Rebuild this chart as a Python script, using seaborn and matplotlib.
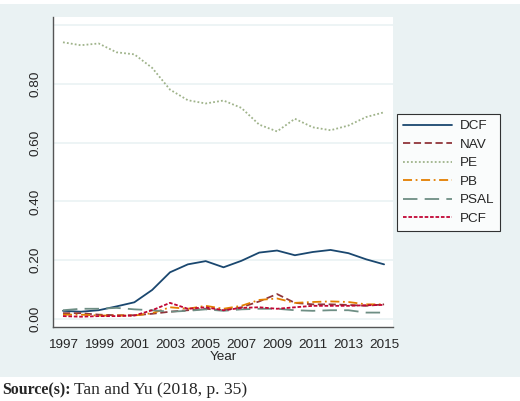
import numpy as np
import pandas as pd
import matplotlib
matplotlib.use('Agg')
import matplotlib.pyplot as plt
from matplotlib.patches import Rectangle
import seaborn as sns

years = list(range(1997, 2016))
dcf = [0.028, 0.025, 0.030, 0.043, 0.057, 0.099, 0.159, 0.186, 0.197, 0.176, 0.198, 0.226,
       0.233, 0.217, 0.228, 0.235, 0.224, 0.203, 0.186]
nav = [0.020, 0.020, 0.015, 0.013, 0.013, 0.018, 0.025, 0.030, 0.035, 0.030, 0.040, 0.060,
       0.085, 0.055, 0.050, 0.050, 0.048, 0.045, 0.050]
pe = [0.941, 0.931, 0.937, 0.907, 0.900, 0.854, 0.780, 0.744, 0.733, 0.743, 0.718, 0.661,
      0.638, 0.681, 0.652, 0.642, 0.658, 0.687, 0.703]
pb = [0.015, 0.015, 0.012, 0.012, 0.012, 0.020, 0.040, 0.035, 0.045, 0.035, 0.045, 0.065,
      0.070, 0.055, 0.058, 0.060, 0.058, 0.050, 0.050]
psal = [0.030, 0.035, 0.035, 0.038, 0.033, 0.030, 0.025, 0.028, 0.033, 0.028, 0.033, 0.035,
        0.035, 0.030, 0.028, 0.030, 0.030, 0.022, 0.022]
pcf = [0.010, 0.008, 0.010, 0.010, 0.012, 0.030, 0.055, 0.035, 0.040, 0.030, 0.038, 0.040,
       0.035, 0.040, 0.045, 0.045, 0.045, 0.047, 0.048]

methods = ['DCF', 'NAV', 'PE', 'PB', 'PSAL', 'PCF']
series = [dcf, nav, pe, pb, psal, pcf]

df = pd.concat([pd.DataFrame({'Year': years, 'value': v, 'method': m})
                for m, v in zip(methods, series)])

# stata s2color-ish
palette = {'DCF': '#1a476f', 'NAV': '#90353b', 'PE': '#9fb38a', 'PB': '#e37e00',
           'PSAL': '#6e8e84', 'PCF': '#c10534'}
dashes = {'DCF': '', 'NAV': (4, 2), 'PE': (1, 1.2), 'PB': (5, 2, 1, 2),
          'PSAL': (8, 4), 'PCF': (2, 1)}

bg = '#eaf2f3'
sns.set_style('white')
plt.rcParams['font.family'] = ['Liberation Sans', 'DejaVu Sans']

fig = plt.figure(figsize=(5.2, 4.01), dpi=100)
fig.patches.append(Rectangle((0, 24 / 401), 1, 1 - 28 / 401, transform=fig.transFigure,
                             facecolor=bg, edgecolor='none', zorder=-10))
ax = fig.add_axes([53 / 520, 1 - 327 / 401, 340 / 520, 310 / 401])
ax.set_zorder(2)
ax.set_facecolor('white')

sns.lineplot(data=df, x='Year', y='value', hue='method', style='method',
             palette=palette, dashes=dashes, linewidth=1.3, ax=ax, legend=False)

ax.set_xlim(1996.44, 2015.5)
ax.set_ylim(-0.027, 1.027)
ax.set_xticks(range(1997, 2016, 2))
ax.set_yticks([0, 0.2, 0.4, 0.6, 0.8, 1.0])
ax.set_yticklabels(['0.00', '0.20', '0.40', '0.60', '0.80', ''], rotation=90, va='center')
ax.tick_params(axis='both', direction='out', length=5, width=1, color='#555555',
               labelsize=9.7, pad=3)
ax.tick_params(axis='x', pad=4)
ax.yaxis.grid(True, color=bg, linewidth=1.2)
ax.set_axisbelow(True)
for s in ['top', 'right']:
    ax.spines[s].set_visible(False)
for s in ['left', 'bottom']:
    ax.spines[s].set_color('#555555')
    ax.spines[s].set_linewidth(1)
ax.set_xlabel('Year', fontsize=9.7, labelpad=0)
ax.set_ylabel('')

handles = [plt.Line2D([], [], color=palette[m], linewidth=1.3,
                      linestyle=(0, dashes[m]) if dashes[m] else '-') for m in methods]
leg = fig.legend(handles, methods, loc='upper left', bbox_to_anchor=(397 / 520, 1 - 114 / 401),
                 frameon=True, fancybox=False, fontsize=9.7, handlelength=3.6,
                 labelspacing=0.45, borderpad=0.45, handletextpad=0.6, borderaxespad=0)
leg.get_frame().set_edgecolor('black')
leg.get_frame().set_linewidth(0.8)
leg.set_zorder(3)

t1 = fig.text(2 / 520, 1 - 390 / 401, 'Source(s):', fontsize=11.4, va='center',
              family=['Liberation Serif'], weight='bold')
fig.canvas.draw()
bb = t1.get_window_extent()
fig.text((bb.x1 + 4) / 520, 1 - 390 / 401, 'Tan and Yu (2018, p. 35)', fontsize=12.6,
         va='center', family=['Liberation Serif'])

fig.savefig('out.png', dpi=100)
